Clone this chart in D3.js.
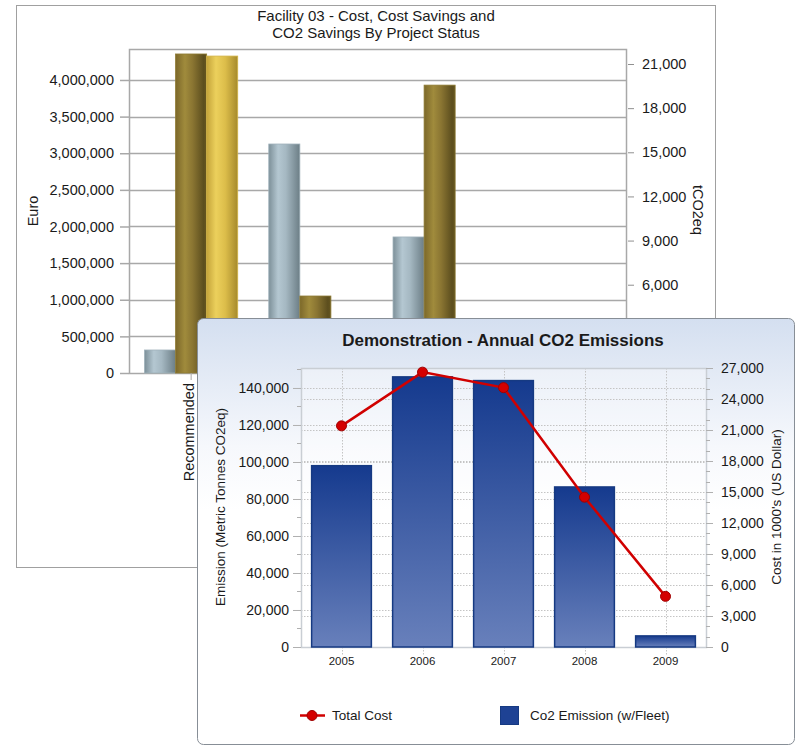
<!DOCTYPE html>
<html lang="en">
<head>
    <meta charset="UTF-8">
    <title>Facility 03 and CO2 Emissions</title>
    <script src="https://d3js.org/d3.v7.min.js"></script>
    <style>
        body { margin: 0; background: #ffffff; }
        text { font-family: "Liberation Sans", Arial, sans-serif; }
    </style>
</head>
<body>
    <div id="chart"></div>
    <script>
        // back chart data
        const backCategories = ["Recommended", "Approved", "Implemented", "Rejected"];
        const backCost = [314000, 3126000, 1857000, 0];
        const backCostSavings = [4355000, 1051000, 3930000, 0];
        const backCo2Savings = [21540, 0, 0, 0];
        const backLeftTicks = [0, 500000, 1000000, 1500000, 2000000, 2500000, 3000000, 3500000, 4000000];
        const backRightTicks = [6000, 9000, 12000, 15000, 18000, 21000];

        // front chart data
        const years = ["2005", "2006", "2007", "2008", "2009"];
        const co2Emission = [98000, 146000, 144000, 86500, 6000];
        const totalCost = [21400, 26600, 25100, 14500, 4900];
        const emissionTicks = [0, 20000, 40000, 60000, 80000, 100000, 120000, 140000];
        const costTicks = [0, 3000, 6000, 9000, 12000, 15000, 18000, 21000, 24000, 27000];

        const fmt = d3.format(",");

        const svg = d3.select("#chart")
            .append("svg")
            .attr("width", 796)
            .attr("height", 746);

        const defs = svg.append("defs");

        function hGradient(id, stops) {
            const g = defs.append("linearGradient")
                .attr("id", id)
                .attr("x1", 0).attr("y1", 0)
                .attr("x2", 1).attr("y2", 0);
            stops.forEach(s => g.append("stop").attr("offset", s[0]).attr("stop-color", s[1]));
        }
        function vGradient(id, stops) {
            const g = defs.append("linearGradient")
                .attr("id", id)
                .attr("x1", 0).attr("y1", 0)
                .attr("x2", 0).attr("y2", 1);
            stops.forEach(s => g.append("stop").attr("offset", s[0]).attr("stop-color", s[1]));
        }

        hGradient("grayBar", [[0, "#7d9099"], [0.3, "#b4c7d1"], [0.55, "#a5b8c2"], [1, "#6c7e86"]]);
        hGradient("darkGold", [[0, "#7c682a"], [0.3, "#a08b3c"], [0.55, "#8a7532"], [0.9, "#5c4e1e"], [1, "#66561f"]]);
        hGradient("lightGold", [[0, "#c4a43a"], [0.3, "#ecd05c"], [0.6, "#dcbd4a"], [1, "#a68a2c"]]);
        vGradient("panelBg", [[0, "#d4dff0"], [0.3, "#f6f8fc"], [0.45, "#ffffff"], [1, "#ffffff"]]);
        vGradient("blueBar", [[0, "#153a8e"], [1, "#6880bb"]]);

        // ---------------- back chart ----------------
        const back = svg.append("g");

        back.append("rect")
            .attr("x", 16.5).attr("y", 5.5)
            .attr("width", 699).attr("height", 562)
            .attr("fill", "#ffffff")
            .attr("stroke", "#a0a0a0");

        const bx0 = 129, bx1 = 626, by0 = 49, by1 = 373;

        const bx = d3.scaleBand()
            .domain(backCategories)
            .range([bx0, bx1]);

        const bSub = d3.scaleBand()
            .domain(["cost", "savings", "co2"])
            .range([bx.bandwidth() * 0.125, bx.bandwidth() * 0.875]);

        const byLeft = d3.scaleLinear().domain([0, 4423000]).range([by1, by0]);
        const byRight = d3.scaleLinear().domain([0, 22020]).range([by1, by0]);

        // grid lines
        back.append("g")
            .selectAll("line")
            .data(backLeftTicks.filter(d => d > 0))
            .enter()
            .append("line")
            .attr("x1", bx0).attr("x2", bx1)
            .attr("y1", d => Math.round(byLeft(d)) + 0.5)
            .attr("y2", d => Math.round(byLeft(d)) + 0.5)
            .attr("stroke", "#a8a8a8")
            .attr("stroke-width", 1.5);

        back.append("rect")
            .attr("x", bx0 + 0.5).attr("y", by0 + 0.5)
            .attr("width", bx1 - bx0).attr("height", by1 - by0)
            .attr("fill", "none")
            .attr("stroke", "#a8a8a8")
            .attr("stroke-width", 1.5);

        function backBars(values, key, fill, stroke, scale) {
            back.append("g")
                .selectAll("rect")
                .data(values.map((v, i) => ({cat: backCategories[i], v: v})).filter(d => d.v > 0))
                .enter()
                .append("rect")
                .attr("x", d => bx(d.cat) + bSub(key))
                .attr("y", d => scale(d.v))
                .attr("width", bSub.bandwidth())
                .attr("height", d => by1 - scale(d.v))
                .attr("fill", fill)
                .attr("stroke", stroke)
                .attr("stroke-width", 0.8);
        }
        backBars(backCost, "cost", "url(#grayBar)", "#9fb1ba", byLeft);
        backBars(backCostSavings, "savings", "url(#darkGold)", "#8e7b34", byLeft);
        backBars(backCo2Savings, "co2", "url(#lightGold)", "#d2b448", byRight);

        // left axis
        const bLeftAxis = back.append("g")
            .attr("transform", `translate(${bx0},0)`)
            .call(d3.axisLeft(byLeft).tickValues(backLeftTicks).tickFormat(fmt).tickSize(9).tickPadding(6));
        bLeftAxis.select(".domain").remove();
        bLeftAxis.selectAll("line").attr("stroke", "#a8a8a8").attr("stroke-width", 1.5);
        bLeftAxis.selectAll("text")
            .attr("font-family", "Liberation Sans, Arial, sans-serif")
            .attr("font-size", "14.5px")
            .attr("fill", "#1a1a1a");

        // right axis
        const bRightAxis = back.append("g")
            .attr("transform", `translate(${bx1 + 2},0)`)
            .call(d3.axisRight(byRight).tickValues(backRightTicks).tickFormat(fmt).tickSize(6).tickPadding(8));
        bRightAxis.select(".domain").remove();
        bRightAxis.selectAll("line").attr("stroke", "#909090");
        bRightAxis.selectAll("text")
            .attr("font-family", "Liberation Sans, Arial, sans-serif")
            .attr("font-size", "14.5px")
            .attr("fill", "#1a1a1a");

        // category axis
        const bBottom = back.append("g")
            .attr("transform", `translate(0,${by1})`)
            .call(d3.axisBottom(bx).tickSize(7).tickPadding(3));
        bBottom.select(".domain").remove();
        bBottom.selectAll("line").attr("stroke", "#a8a8a8");
        bBottom.selectAll("text")
            .attr("font-family", "Liberation Sans, Arial, sans-serif")
            .attr("font-size", "14.5px")
            .attr("fill", "#1a1a1a")
            .attr("text-anchor", "end")
            .attr("dy", "0.35em")
            .attr("transform", "translate(-2,0) rotate(-90)")
            .attr("x", -10)
            .attr("y", 0);

        back.append("text")
            .attr("transform", "translate(38,211) rotate(-90)")
            .attr("text-anchor", "middle")
            .attr("font-size", "14.5px")
            .attr("fill", "#1a1a1a")
            .text("Euro");

        back.append("text")
            .attr("transform", "translate(693,210) rotate(90)")
            .attr("text-anchor", "middle")
            .attr("font-size", "14.5px")
            .attr("fill", "#1a1a1a")
            .text("tCO2eq");

        back.append("text")
            .attr("x", 376).attr("y", 21)
            .attr("text-anchor", "middle")
            .attr("font-size", "15px")
            .attr("fill", "#1a1a1a")
            .text("Facility 03 - Cost, Cost Savings and");
        back.append("text")
            .attr("x", 376).attr("y", 38)
            .attr("text-anchor", "middle")
            .attr("font-size", "15px")
            .attr("fill", "#1a1a1a")
            .text("CO2 Savings By Project Status");

        // ---------------- front chart ----------------
        const front = svg.append("g");

        front.append("rect")
            .attr("x", 197.5).attr("y", 318.5)
            .attr("width", 597).attr("height", 426)
            .attr("rx", 6)
            .attr("fill", "url(#panelBg)")
            .attr("stroke", "#878e96");

        const fx0 = 301, fx1 = 706, fy0 = 368, fy1 = 647;

        const fx = d3.scaleBand()
            .domain(years)
            .range([fx0, fx1])
            .paddingInner(0.25)
            .paddingOuter(0.125);

        const fyLeft = d3.scaleLinear().domain([0, 150800]).range([fy1, fy0]);
        const fyRight = d3.scaleLinear().domain([0, 27000]).range([fy1, fy0]);

        front.append("rect")
            .attr("x", fx0).attr("y", fy0)
            .attr("width", fx1 - fx0).attr("height", fy1 - fy0)
            .attr("fill", "#ffffff")
            .attr("fill-opacity", 0.35);

        // dotted grid
        const grid = front.append("g")
            .attr("stroke", "#c4c4c4")
            .attr("stroke-dasharray", "1.5,1.5");
        grid.selectAll(".gl")
            .data(emissionTicks.filter(d => d > 0))
            .enter()
            .append("line")
            .attr("x1", fx0).attr("x2", fx1)
            .attr("y1", d => Math.round(fyLeft(d)) + 0.5)
            .attr("y2", d => Math.round(fyLeft(d)) + 0.5);
        grid.selectAll(".gr")
            .data(costTicks.filter(d => d > 0 && d < 27000))
            .enter()
            .append("line")
            .attr("x1", fx0).attr("x2", fx1)
            .attr("y1", d => Math.round(fyRight(d)) + 0.5)
            .attr("y2", d => Math.round(fyRight(d)) + 0.5);
        grid.selectAll(".gv")
            .data(years)
            .enter()
            .append("line")
            .attr("x1", d => Math.round(fx(d) + fx.bandwidth() / 2) + 0.5)
            .attr("x2", d => Math.round(fx(d) + fx.bandwidth() / 2) + 0.5)
            .attr("y1", fy0).attr("y2", fy1 + 8);

        front.append("rect")
            .attr("x", fx0 + 0.5).attr("y", fy0 + 0.5)
            .attr("width", fx1 - fx0).attr("height", fy1 - fy0)
            .attr("fill", "none")
            .attr("stroke", "#c9ced4")
            .attr("stroke-width", 1.5);

        // bars
        front.append("g")
            .selectAll("rect")
            .data(co2Emission)
            .enter()
            .append("rect")
            .attr("x", (d, i) => fx(years[i]) + 0.5)
            .attr("y", d => fyLeft(d))
            .attr("width", fx.bandwidth() - 1)
            .attr("height", d => fy1 - fyLeft(d))
            .attr("fill", "url(#blueBar)")
            .attr("stroke", "#163a82")
            .attr("stroke-width", 1.5);

        // line
        const line = d3.line()
            .x((d, i) => fx(years[i]) + fx.bandwidth() / 2)
            .y(d => fyRight(d));

        front.append("path")
            .datum(totalCost)
            .attr("d", line)
            .attr("fill", "none")
            .attr("stroke", "#d00000")
            .attr("stroke-width", 2.5);

        front.append("g")
            .selectAll("circle")
            .data(totalCost)
            .enter()
            .append("circle")
            .attr("cx", (d, i) => fx(years[i]) + fx.bandwidth() / 2)
            .attr("cy", d => fyRight(d))
            .attr("r", 5)
            .attr("fill", "#d40000")
            .attr("stroke", "#a00000")
            .attr("stroke-width", 1);

        // left axis
        const fLeftMinor = d3.range(10000, 150001, 20000);
        front.append("g")
            .selectAll("line")
            .data(fLeftMinor)
            .enter()
            .append("line")
            .attr("x1", fx0 - 4).attr("x2", fx0)
            .attr("y1", d => Math.round(fyLeft(d)) + 0.5)
            .attr("y2", d => Math.round(fyLeft(d)) + 0.5)
            .attr("stroke", "#b0b0b0");

        const fLeftAxis = front.append("g")
            .attr("transform", `translate(${fx0},0)`)
            .call(d3.axisLeft(fyLeft).tickValues(emissionTicks).tickFormat(fmt).tickSize(8).tickPadding(4));
        fLeftAxis.select(".domain").remove();
        fLeftAxis.selectAll("line").attr("stroke", "#b0b0b0");
        fLeftAxis.selectAll("text")
            .attr("font-family", "Liberation Sans, Arial, sans-serif")
            .attr("font-size", "14px")
            .attr("fill", "#1a1a1a");

        // right axis
        const fRightMinor = d3.range(1000, 27000, 1000).filter(d => d % 3000 !== 0);
        front.append("g")
            .selectAll("line")
            .data(fRightMinor)
            .enter()
            .append("line")
            .attr("x1", fx1).attr("x2", fx1 + 4)
            .attr("y1", d => Math.round(fyRight(d)) + 0.5)
            .attr("y2", d => Math.round(fyRight(d)) + 0.5)
            .attr("stroke", "#b0b0b0");

        const fRightAxis = front.append("g")
            .attr("transform", `translate(${fx1},0)`)
            .call(d3.axisRight(fyRight).tickValues(costTicks).tickFormat(fmt).tickSize(7).tickPadding(8));
        fRightAxis.select(".domain").remove();
        fRightAxis.selectAll("line").attr("stroke", "#b0b0b0");
        fRightAxis.selectAll("text")
            .attr("font-family", "Liberation Sans, Arial, sans-serif")
            .attr("font-size", "14px")
            .attr("fill", "#1a1a1a");

        // year axis
        const fBottom = front.append("g")
            .attr("transform", `translate(0,${fy1})`)
            .call(d3.axisBottom(fx).tickSize(0).tickPadding(10));
        fBottom.select(".domain").remove();
        fBottom.selectAll("text")
            .attr("font-family", "Liberation Sans, Arial, sans-serif")
            .attr("font-size", "11.5px")
            .attr("fill", "#1a1a1a");

        front.append("text")
            .attr("transform", "translate(225,507) rotate(-90)")
            .attr("text-anchor", "middle")
            .attr("font-size", "13.5px")
            .attr("fill", "#1a1a1a")
            .text("Emission (Metric Tonnes CO2eq)");

        front.append("text")
            .attr("transform", "translate(781,507) rotate(-90)")
            .attr("text-anchor", "middle")
            .attr("font-size", "13.5px")
            .attr("fill", "#1a1a1a")
            .text("Cost in 1000's (US Dollar)");

        front.append("text")
            .attr("x", 503).attr("y", 346)
            .attr("text-anchor", "middle")
            .attr("font-size", "17px")
            .attr("font-weight", "bold")
            .attr("fill", "#1a1a1a")
            .text("Demonstration - Annual CO2 Emissions");

        // legend
        const legend = front.append("g");
        legend.append("line")
            .attr("x1", 300).attr("x2", 325)
            .attr("y1", 715.5).attr("y2", 715.5)
            .attr("stroke", "#d00000")
            .attr("stroke-width", 2.5);
        legend.append("circle")
            .attr("cx", 312).attr("cy", 715.5)
            .attr("r", 5)
            .attr("fill", "#d40000")
            .attr("stroke", "#a00000");
        legend.append("text")
            .attr("x", 332).attr("y", 720)
            .attr("font-size", "13.5px")
            .attr("fill", "#1a1a1a")
            .text("Total Cost");
        legend.append("rect")
            .attr("x", 500.5).attr("y", 706.5)
            .attr("width", 18).attr("height", 18)
            .attr("fill", "#1e4294")
            .attr("stroke", "#163a82");
        legend.append("text")
            .attr("x", 530).attr("y", 720)
            .attr("font-size", "13.5px")
            .attr("fill", "#1a1a1a")
            .text("Co2 Emission (w/Fleet)");
    </script>
</body>
</html>
